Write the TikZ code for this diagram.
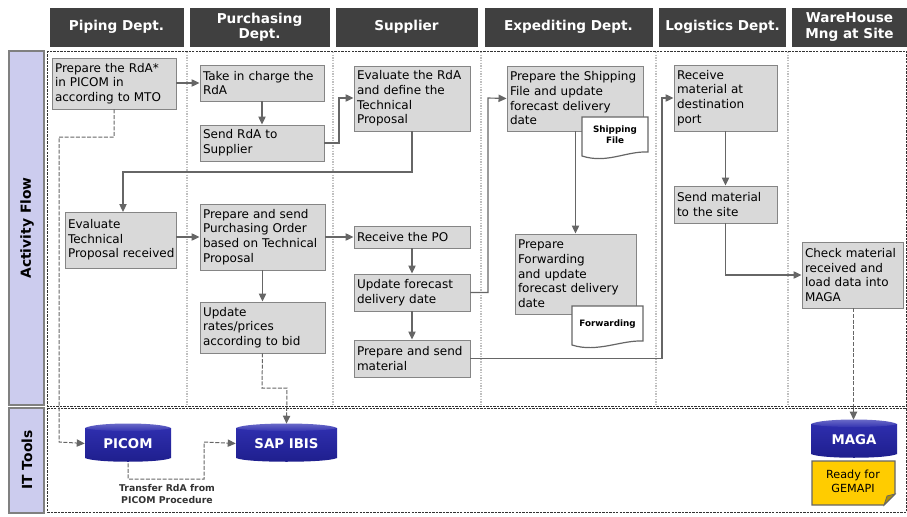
\documentclass[tikz,border=0pt]{standalone}
\usepackage{fontspec}
\setmainfont{DejaVu Sans}
\usetikzlibrary{arrows.meta,calc}
\definecolor{hdr}{HTML}{404040}
\definecolor{lane}{HTML}{CCCCEE}
\definecolor{boxg}{HTML}{D9D9D9}
\definecolor{lin}{HTML}{666666}
\definecolor{dbtop}{HTML}{7474CC}
\definecolor{dbhi}{HTML}{2E2EAE}
\definecolor{dblo}{HTML}{1E1E8C}
\definecolor{notey}{HTML}{FFCC00}
\tikzset{
 x=0.75pt,y=-0.75pt,
 header/.style={fill=hdr,draw=hdr,text=white,font=\fontsize{10.2pt}{11.5pt}\selectfont\bfseries,align=center,inner sep=0pt},
 lanebox/.style={fill=lane,draw=gray,line width=0.8pt},
 lanetext/.style={rotate=90,font=\fontsize{10.4pt}{11pt}\selectfont\bfseries},
 activity/.style={fill=boxg,draw=lin!80,line width=0.7pt,font=\fontsize{9pt}{11pt}\selectfont,align=left,inner xsep=2.25pt,inner ysep=0pt},
 flow/.style={draw=lin,line width=0.85pt,-{Triangle[length=6pt,width=5.5pt]}},
 dataflow/.style={draw=lin,line width=0.75pt,dash pattern=on 3pt off 1.2pt,-{Triangle[length=6pt,width=5.5pt]}},
 sep/.style={draw=gray!50,line width=1pt,dash pattern=on 1pt off 1pt},
 frame/.style={draw=black!80,line width=0.7pt,dash pattern=on 1.8pt off 0.8pt},
 dblabel/.style={text=white,font=\fontsize{10pt}{12pt}\selectfont\bfseries,inner sep=0pt},
}
\newcommand{\actbox}[6]{% name,x0,y0,x1,y1,text
 \pgfmathsetmacro{\bw}{(#4-#2)*0.75}
 \pgfmathsetmacro{\bh}{(#5-#3)*0.75}
 \pgfmathsetmacro{\tw}{\bw-4.5}
 \node[activity,minimum width=\bw pt,minimum height=\bh pt,text width=\tw pt] (#1) at ({(#2+#4)/2},{(#3+#5)/2}) {#6};
}
\newcommand{\dbshape}[6]{% name x0 y0 x1 y1 text
 \pgfmathsetmacro{\bw}{(#4-#2)*0.75}
 \pgfmathsetmacro{\bh}{(#5-#3)*0.75}
 \shade[top color=dbhi,bottom color=dblo] (#2,#3+5) -- (#2,#5-4) .. controls (#2+10,#5+1) and (#4-10,#5+1) .. (#4,#5-4) -- (#4,#3+5) -- cycle;
 \shade[top color=dbtop,bottom color=dbhi] (#2,#3+5) .. controls (#2+10,#3-1) and (#4-10,#3-1) .. (#4,#3+5) .. controls (#4-10,#3+9) and (#2+10,#3+9) .. (#2,#3+5) -- cycle;
 \node[dblabel,minimum width=\bw pt,minimum height=\bh pt] (#1) at ({(#2+#4)/2},{(#3+#5)/2+1}) {#6};
}
\newcommand{\docshape}[6]{% name x0 y0 x1 y1 text
 \path[fill=white,draw=lin,line width=0.9pt] (#2,#3) -- (#4,#3) -- (#4,#5-5) .. controls (#4-22,#5-6) and (#2+25,#5+7) .. (#2,#5-1) -- cycle;
 \node[font=\fontsize{6.6pt}{8pt}\selectfont\bfseries,align=center,inner sep=0pt] (#1) at ({(#2+#4)/2},{(#3+#5)/2-2}) {#6};
}
\begin{document}
\begin{tikzpicture}
\useasboundingbox (0,0) rectangle (907,517);
% headers
\node[header,minimum width=99.75pt,minimum height=28.5pt] (h1) at (116.5,27) {Piping Dept.};
\node[header,minimum width=104.25pt,minimum height=28.5pt] (h2) at (259.5,27) {Purchasing\\Dept.};
\node[header,minimum width=105.75pt,minimum height=28.5pt] (h3) at (406.5,27) {Supplier};
\node[header,minimum width=125.25pt,minimum height=28.5pt] (h4) at (568.5,27) {Expediting Dept.};
\node[header,minimum width=94.5pt,minimum height=28.5pt] (h5) at (722.5,27) {Logistics Dept.};
\node[header,minimum width=85.5pt,minimum height=28.5pt] (h6) at (849.5,27) {WareHouse\\Mng at Site};
% lanes
\path[lanebox] (9,51) rectangle (44,405);
\path[lanebox] (9,408) rectangle (44,513);
\node[lanetext] (l1) at (27,228) {Activity Flow};
\node[lanetext] (l2) at (27,460) {IT Tools};
% frames
\path[frame] (47.5,51) rectangle (906.5,406);
\path[frame] (47.5,408) rectangle (906.5,512);
\foreach \xx in {187,333,481,656,788}{\draw[sep] (\xx,52) -- (\xx,405);}
% activities
\actbox{a}{52}{58}{176}{109}{Prepare the RdA*\\in PICOM in\\according to MTO}
\actbox{b}{200}{65}{324}{101}{Take in charge the\\RdA}
\actbox{c}{200}{125}{324}{161}{Send RdA to\\Supplier}
\actbox{d}{354}{66}{470}{131}{Evaluate the RdA\\and define the\\Technical\\Proposal}
\actbox{e}{507}{66}{643}{131}{Prepare the Shipping\\File and update\\forecast delivery\\date}
\actbox{f}{674}{65}{777}{131}{Receive\\material at\\destination\\port}
\actbox{g}{65}{212}{176}{268}{Evaluate\\Technical\\\mbox{Proposal received}}
\actbox{h}{200}{204}{325}{270}{Prepare and send\\Purchasing Order\\based on Technical\\Proposal}
\actbox{i}{200}{302}{325}{353}{Update\\rates/prices\\according to bid}
\actbox{j}{354}{226}{470}{248}{Receive the PO}
\actbox{k}{354}{274}{470}{311}{Update forecast\\delivery date}
\actbox{l}{354}{340}{470}{377}{Prepare and send\\material}
\actbox{m}{515}{234}{636}{314}{Prepare\\Forwarding\\and update\\forecast delivery\\date}
\actbox{n}{674}{186}{777}{223}{Send material\\to the site}
\actbox{o}{802}{242}{903}{308}{Check material\\received and\\load data into\\MAGA}
% flows
\draw[flow] (a.east|-b.west) -- (b.west);
\draw[flow] (b.south) -- (c.north);
\draw[flow] (c.east) -- (339,143) -- (339,98) -- (d.west|-0,98);
\draw[flow] (d.south) -- (412,172) -- (123,172) -- (123,212);
\draw[flow] (g.east|-h.west) -- (h.west);
\draw[flow] (h.east|-j.west) -- (j.west);
\draw[flow] (h.south) -- (i.north);
\draw[flow] (j.south) -- (k.north);
\draw[flow] (k.east) -- (488,292.5) -- (488,98) -- (e.west);
\draw[flow] (k.south) -- (l.north);
\draw[flow] (l.east) -- (662,358.5) -- (662,98) -- (f.west);
\draw[flow] (e.south-|m.north) -- (m.north);
\draw[flow] (f.south) -- (n.north);
\draw[flow] (n.south) -- (725.5,275) -- (o.west|-0,275);
% documents
\docshape{d1}{582}{117}{648}{157}{Shipping\\File}
\docshape{d2}{572}{306}{643}{346}{Forwarding}
% databases
\dbshape{picom}{85}{423}{171}{462}{PICOM}
\dbshape{ibis}{236}{423}{337}{462}{SAP IBIS}
\dbshape{maga}{811}{419}{897}{458}{MAGA}
% note
\path[fill=notey,draw=lin,line width=0.8pt] (812,461) -- (895,461) -- (895,494) -- (884,505) -- (812,505) -- cycle;
\path[fill=notey!70!black,draw=lin,line width=0.6pt] (895,494) -- (887,496) -- (884,505) -- cycle;
\node[font=\fontsize{8.4pt}{10.5pt}\selectfont,align=center,inner sep=0pt] (note) at (853,481) {Ready for\\GEMAPI};
\node[font=\fontsize{7pt}{9pt}\selectfont\bfseries,text=black!80,align=center,inner sep=0pt] (xfer) at (167,494.5) {Transfer RdA from\\PICOM Procedure};
% data flows
\draw[dataflow] (a.south) -- (114,137) -- (59,137) -- (59,442) -- (picom.west);
\draw[dataflow] (picom.south) -- (128,479) -- (204,479) -- (204,442) -- (ibis.west);
\draw[dataflow] (i.south) -- (262,388) -- (287,388) -- (ibis.north);
\draw[dataflow] ([xshift=0.75pt]o.south) -- ([xshift=0.75pt]o.south|-maga.north);
\end{tikzpicture}
\end{document}
